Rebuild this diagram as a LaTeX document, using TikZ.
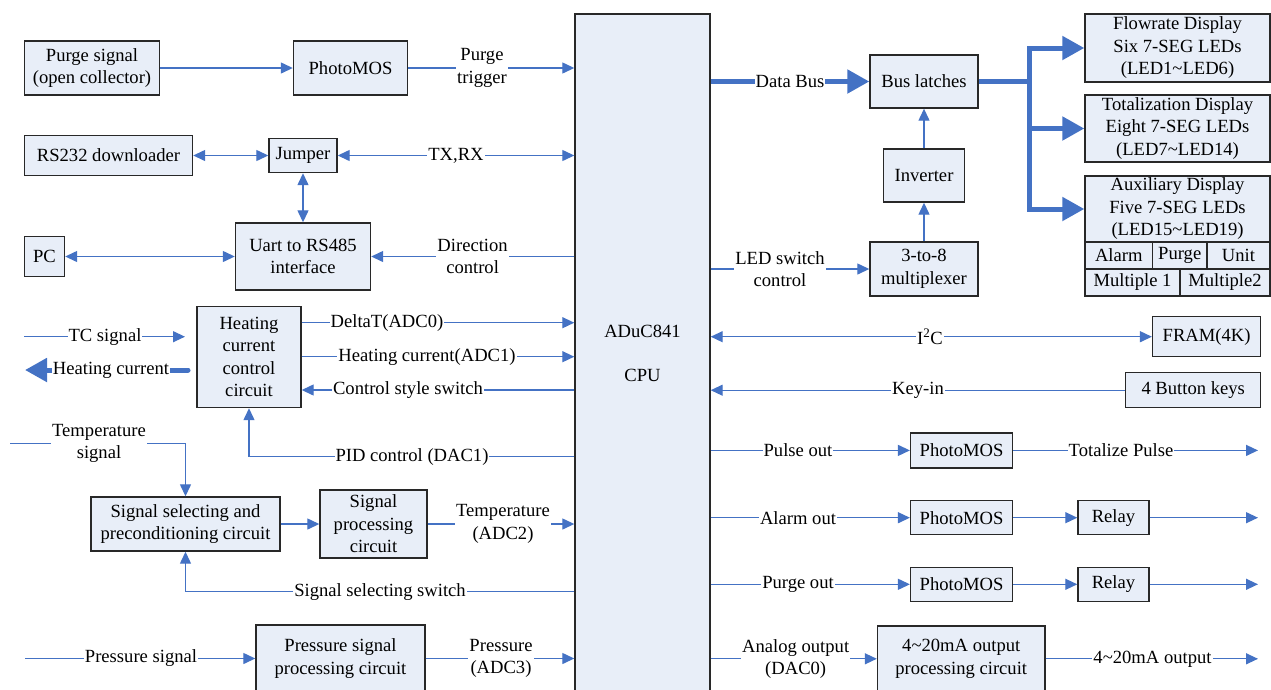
\documentclass[tikz,border=0pt]{standalone}
\usepackage{fontspec}
\setmainfont{Liberation Serif}
\usetikzlibrary{arrows.meta}
\definecolor{boxfill}{RGB}{232,238,248}
\definecolor{wire}{RGB}{68,114,196}
\definecolor{edge}{RGB}{40,40,40}
\begin{document}
\begin{tikzpicture}[x=1pt,y=-1pt,
  every node/.style={font=\fontsize{18.6}{22.5}\selectfont, text=black},
  box/.style={draw=edge, fill=boxfill, line width=1.4pt, inner sep=0pt, align=center},
  wire/.style={draw=wire, line width=1.3pt},
  arr/.style={wire, -{Triangle[length=12pt,width=11pt]}},
  darr/.style={wire, {Triangle[length=12pt,width=11pt]}-{Triangle[length=12pt,width=11pt]}},
  bus/.style={draw=wire, line width=5pt, line join=miter},
  busarr/.style={bus, -{Triangle[length=22pt,width=23pt]}},
  lab/.style={fill=white, inner sep=1pt, align=center},
]
\useasboundingbox (0,0) rectangle (1271,689);
\clip (0,0) rectangle (1271,689);

% ---------- CPU ----------
\node[box, minimum width=135, minimum height=706] (cpu) at (642.5,367) {};
\node (cpuA) at (642.5,331) {ADuC841};
\node (cpuB) at (642.5,375) {CPU};

% ---------- left side boxes ----------
\node[box, minimum width=135, minimum height=54] (psig) at (92,68) {Purge signal\\(open collector)};
\node[box, minimum width=114, minimum height=54] (pmos1) at (350.5,68) {PhotoMOS};
\node[box, minimum width=168, minimum height=40] (rs232) at (108.5,155.5) {RS232 downloader};
\node[box, minimum width=68, minimum height=34] (jumper) at (303,155.5) {Jumper};
\node[box, minimum width=135, minimum height=67] (uart) at (303,256.5) {Uart to RS485\\interface};
\node[box, minimum width=40, minimum height=40] (pc) at (44.5,256.5) {PC};
\node[box, minimum width=104, minimum height=101] (heat) at (249,357) {Heating\\current\\control\\circuit};
\node[box, minimum width=189, minimum height=54] (sel) at (185.5,524) {Signal selecting and\\preconditioning circuit};
\node[box, minimum width=107, minimum height=68] (proc) at (373.5,524) {Signal\\processing\\circuit};
\node[box, minimum width=169, minimum height=67] (press) at (340.5,658.5) {Pressure signal\\processing circuit};

% ---------- right side boxes ----------
\node[box, minimum width=108, minimum height=53] (latch) at (924,81.5) {Bus latches};
\node[box, minimum width=81, minimum height=53] (inv) at (924,175.5) {Inverter};
\node[box, minimum width=108, minimum height=54] (mux) at (924,269) {3-to-8\\multiplexer};
\node[box, minimum width=185, minimum height=68] (disp1) at (1177.5,48) {Flowrate Display\\Six 7-SEG LEDs\\(LED1\textasciitilde LED6)};
\node[box, minimum width=185, minimum height=67] (disp2) at (1177.5,128.5) {Totalization Display\\Eight 7-SEG LEDs\\(LED7\textasciitilde LED14)};
\node[box, minimum width=185, minimum height=66] (disp3) at (1177.5,209) {Auxiliary Display\\Five 7-SEG LEDs\\(LED15\textasciitilde LED19)};
\node[box, minimum width=67.5, minimum height=27] (alarm) at (1118.75,255.5) {Alarm};
\node[box, minimum width=54.5, minimum height=27] (purgec) at (1179.75,255.5) {Purge};
\node[box, minimum width=63, minimum height=27] (unit) at (1238.5,255.5) {Unit};
\node[box, minimum width=95, minimum height=27] (mult1) at (1132.5,282.5) {Multiple 1};
\node[box, minimum width=90, minimum height=27] (mult2) at (1225,282.5) {Multiple2};
\node[box, minimum width=108, minimum height=40] (fram) at (1206.6,336.7) {FRAM(4K)};
\node[box, minimum width=135, minimum height=35] (keys) at (1193.2,390.2) {4 Button keys};
\node[box, minimum width=102, minimum height=35] (pm2) at (961.6,450.4) {PhotoMOS};
\node[box, minimum width=102, minimum height=34] (pm3) at (961.6,517.7) {PhotoMOS};
\node[box, minimum width=102, minimum height=34] (pm4) at (961.6,584.3) {PhotoMOS};
\node[box, minimum width=71, minimum height=34] (relay1) at (1113.5,517.7) {Relay};
\node[box, minimum width=71, minimum height=34] (relay2) at (1113.5,584.3) {Relay};
\node[box, minimum width=167.5, minimum height=66] (out420) at (961.25,658.8) {4\textasciitilde 20mA output\\processing circuit};

% ---------- row levels and free ends ----------
\coordinate (yA) at (0,322.7);
\coordinate (yB) at (0,356.7);
\coordinate (yC) at (0,390);
\coordinate (yD) at (0,456.7);
\coordinate (ySw) at (0,591.7);
\coordinate (tcA) at (24,336.7);
\coordinate (tcB) at (185,336.7);
\coordinate (hcA) at (188,370);
\coordinate (hcB) at (25,370);
\coordinate (tsA) at (10,443.3);
\coordinate (psA) at (25,658.5);
\coordinate (bj) at (1029.5,81.5);
\coordinate (o1) at (1258,450.4);
\coordinate (o2) at (1258,517.7);
\coordinate (o3) at (1258,584.3);
\coordinate (o4) at (1258,658.8);

% ---------- left connectors ----------
\draw[arr] (psig.east) -- (pmos1.west);
\draw[arr] (pmos1.east) -- (pmos1.east -| cpu.west);
\draw[darr] (rs232.east) -- (jumper.west);
\draw[darr] (jumper.east) -- (jumper.east -| cpu.west);
\draw[darr] (jumper.south) -- (uart.north);
\draw[darr] (pc.east) -- (uart.west);
\draw[arr] (uart.east -| cpu.west) -- (uart.east);
\draw[arr] (heat.east |- yA) -- (cpu.west |- yA);
\draw[arr] (heat.east |- yB) -- (cpu.west |- yB);
\draw[arr] (cpu.west |- yC) -- (heat.east |- yC);
\draw[arr] (cpu.west |- yD) -| (heat.south);
\draw[arr] (tcA) -- (tcB);
\draw[busarr, line cap=round] (hcA) -- (hcB);
\draw[arr] (tsA) -| (sel.north);
\draw[arr] (sel.east) -- (proc.west);
\draw[arr] (proc.east) -- (proc.east -| cpu.west);
\draw[arr] (cpu.west |- ySw) -| (sel.south);
\draw[arr] (psA) -- (press.west);
\draw[arr] (press.east) -- (press.east -| cpu.west);

% ---------- right connectors ----------
\draw[busarr] (cpu.east |- latch.west) -- (latch.west);
\draw[arr] (inv.north) -- (latch.south);
\draw[arr] (mux.north) -- (inv.south);
\draw[arr] (cpu.east |- mux.west) -- (mux.west);
\draw[bus] (latch.east) -- (bj);
\draw[busarr] (bj) |- (disp1.west);
\draw[busarr] (bj) |- (disp2.west);
\draw[busarr] (bj) |- (disp3.west);
\draw[darr] (cpu.east |- fram.west) -- (fram.west);
\draw[arr] (keys.west) -- (keys.west -| cpu.east);
\draw[arr] (cpu.east |- pm2.west) -- (pm2.west);
\draw[arr] (pm2.east) -- (o1);
\draw[arr] (cpu.east |- pm3.west) -- (pm3.west);
\draw[arr] (pm3.east) -- (relay1.west);
\draw[arr] (relay1.east) -- (o2);
\draw[arr] (cpu.east |- pm4.west) -- (pm4.west);
\draw[arr] (pm4.east) -- (relay2.west);
\draw[arr] (relay2.east) -- (o3);
\draw[arr] (cpu.east |- out420.west) -- (out420.west);
\draw[arr] (out420.east) -- (o4);

% ---------- connector labels ----------
\node[lab] (lPT) at (482,68) {Purge\\trigger};
\node[lab] (lTX) at (456,155.5) {TX,RX};
\node[lab] (lDC) at (472.6,256.5) {Direction\\control};
\node[lab] (lA0) at (387,322.7) {DeltaT(ADC0)};
\node[lab] (lA1) at (427,356.7) {Heating current(ADC1)};
\node[lab] (lCS) at (408,390) {Control style switch};
\node[lab] (lPID) at (412,456.7) {PID control (DAC1)};
\node[lab] (lTC) at (105,336.7) {TC signal};
\node[lab] (lHC) at (111,370) {Heating current};
\node[lab] (lTS) at (99,443.3) {Temperature\\signal};
\node[lab] (lA2) at (503,524) {Temperature\\(ADC2)};
\node[lab] (lSS) at (380,591.7) {Signal selecting switch};
\node[lab] (lPS) at (141,658.5) {Pressure signal};
\node[lab] (lA3) at (501,658.5) {Pressure\\(ADC3)};
\node[lab] (lDB) at (790,81.5) {Data Bus};
\node[lab] (lLS) at (780,269) {LED switch\\control};
\node[lab] (lI2C) at (930,336.7) {I\textsuperscript{2}C};
\node[lab] (lKI) at (918,390.2) {Key-in};
\node[lab] (lPO) at (798,450.4) {Pulse out};
\node[lab] (lTP) at (1121,450.4) {Totalize Pulse};
\node[lab] (lAO) at (798,517.7) {Alarm out};
\node[lab] (lGO) at (798,584.3) {Purge out};
\node[lab] (lAN) at (795.7,658.8) {Analog output\\(DAC0)};
\node[lab] (lMA) at (1152.5,658.8) {4\textasciitilde 20mA output};
\end{tikzpicture}
\end{document}
